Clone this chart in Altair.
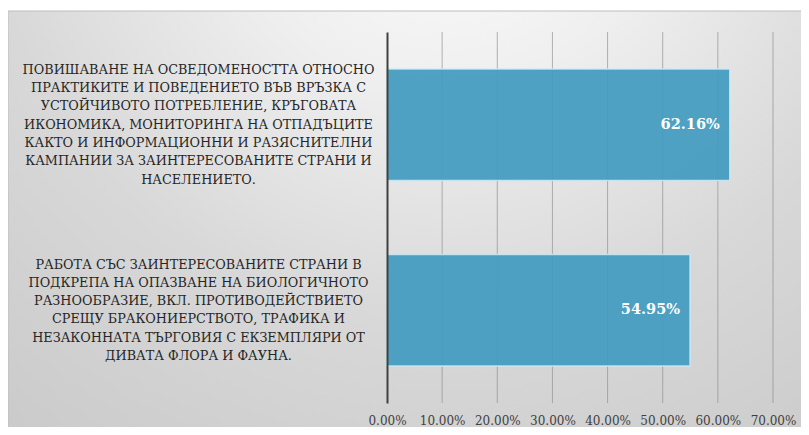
import altair as alt
import pandas as pd

# ---- data ----
categories = [
    "ПОВИШАВАНЕ НА ОСВЕДОМЕНОСТТА ОТНОСНО|ПРАКТИКИТЕ И ПОВЕДЕНИЕТО ВЪВ ВРЪЗКА С|УСТОЙЧИВОТО ПОТРЕБЛЕНИЕ, КРЪГОВАТА|ИКОНОМИКА, МОНИТОРИНГА НА ОТПАДЪЦИТЕ|КАКТО И ИНФОРМАЦИОННИ И РАЗЯСНИТЕЛНИ|КАМПАНИИ ЗА ЗАИНТЕРЕСОВАНИТЕ СТРАНИ И|НАСЕЛЕНИЕТО.",
    "РАБОТА СЪС ЗАИНТЕРЕСОВАНИТЕ СТРАНИ В|ПОДКРЕПА НА ОПАЗВАНЕ НА БИОЛОГИЧНОТО|РАЗНООБРАЗИЕ, ВКЛ. ПРОТИВОДЕЙСТВИЕТО|СРЕЩУ БРАКОНИЕРСТВОТО, ТРАФИКА И|НЕЗАКОННАТА ТЪРГОВИЯ С ЕКЗЕМПЛЯРИ ОТ|ДИВАТА ФЛОРА И ФАУНА.",
]
values = [0.6216, 0.5495]
x_ticks = [0.0, 0.1, 0.2, 0.3, 0.4, 0.5, 0.6, 0.7]

df = pd.DataFrame({"category": categories, "value": values})
grid_df = pd.DataFrame({"tick": x_ticks[1:]})

W, H = 386, 371
FONT = "DejaVu Serif"
LINE_H = 18.3
XSCALE = alt.Scale(domain=[0, 0.7], nice=False, zero=True)

bg_fill = {
    "gradient": "radial",
    "x1": 0.55, "y1": 0.05, "r1": 0.0,
    "x2": 0.55, "y2": 0.05, "r2": 1.0,
    "stops": [
        {"offset": 0.0, "color": "#ffffff"},
        {"offset": 0.28, "color": "#efefef"},
        {"offset": 0.58, "color": "#d8d8d8"},
        {"offset": 1.0, "color": "#c6c6c6"},
    ],
}

bg = alt.Chart(pd.DataFrame({"a": [0]})).mark_rect(
    fill=bg_fill, stroke="#bdbdbd", strokeWidth=1
).encode(
    x=alt.value(-379), x2=alt.value(420),
    y=alt.value(-21), y2=alt.value(400),
)

grid = alt.Chart(grid_df).mark_rule(color="#8c8c8c", opacity=0.65, strokeWidth=1).encode(
    x=alt.X("tick:Q", scale=XSCALE),
    y=alt.value(0), y2=alt.value(H),
)

n1 = len(categories[0].split("|"))
n2 = len(categories[1].split("|"))

x_enc = alt.X(
    "value:Q",
    scale=XSCALE,
    axis=alt.Axis(
        values=x_ticks, format=".2%", title=None, ticks=False, domain=False,
        labelPadding=12, labelFont=FONT, labelFontSize=12, labelColor="#404040",
        labelFlush=False, grid=False, zindex=1,
    ),
)
y_enc = alt.Y(
    "category:N", sort=None,
    scale=alt.Scale(paddingInner=0.4, paddingOuter=0.2),
    axis=alt.Axis(
        title=None, ticks=False, grid=False, labelExpr="split(datum.label, '|')",
        labelAlign="center", labelBaseline="middle", labelPadding=189,
        labelOffset={
            "condition": {"test": "indexof(datum.value, 'ПОВИШАВАНЕ') == 0",
                          "value": -(n1 - 1) / 2 * LINE_H},
            "value": -(n2 - 1) / 2 * LINE_H,
        },
        labelFont=FONT, labelFontSize=12.8, labelLineHeight=LINE_H,
        labelColor="#262626", labelLimit=0,
        domainColor="#404040", domainWidth=2, zindex=1,
    ),
)

bars = alt.Chart(df).mark_bar(
    color="#449CBF", fillOpacity=0.94, stroke="#cfe9f2", strokeWidth=1.5,
    strokeOpacity=0.85,
).encode(x=x_enc, y=y_enc)

labels = alt.Chart(df).mark_text(
    align="right", baseline="middle", dx=-10, color="white",
    font=FONT, fontWeight="bold", fontSize=14.5,
).encode(
    x=alt.X("value:Q"), y=alt.Y("category:N", sort=None),
    text=alt.Text("value:Q", format=".2%"),
)

chart = alt.layer(bg, grid, bars, labels).properties(
    width=W, height=H,
    autosize=alt.AutoSizeParams(type="none"),
    padding={"left": 379, "top": 24, "right": 28, "bottom": 24},
).configure_view(stroke=None)

chart.save("out.html", embed_options={"renderer": "svg", "actions": False})
